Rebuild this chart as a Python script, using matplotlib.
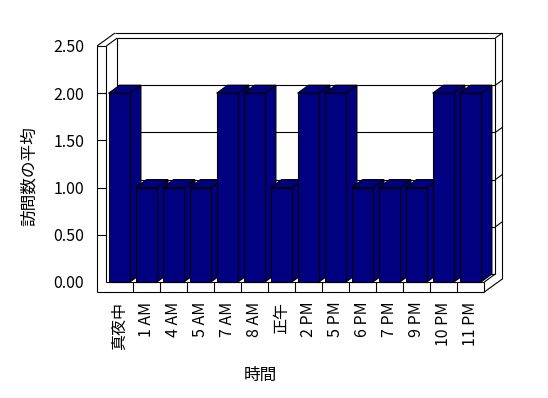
import numpy as np
import matplotlib
matplotlib.use('Agg')
import matplotlib.pyplot as plt
from matplotlib.patches import Polygon

plt.rcParams['font.family'] = ['Noto Sans CJK JP', 'DejaVu Sans']

categories = ['真夜中', '1 AM', '4 AM', '5 AM', '7 AM', '8 AM', '正午',
              '2 PM', '5 PM', '6 PM', '7 PM', '9 PM', '10 PM', '11 PM']
values = [2, 1, 1, 1, 2, 2, 1, 2, 2, 1, 1, 1, 2, 2]
yticks = [0.0, 0.5, 1.0, 1.5, 2.0, 2.5]
ytick_labels = ['0.00', '0.50', '1.00', '1.50', '2.00', '2.50']

NAVY = '#000080'
LW = 0.8
W, H = 548, 398

fig = plt.figure(figsize=(W / 100, H / 100), dpi=100)
fig.patch.set_facecolor('white')

# front plane of the box, in pixels of the image
left_px, right_px, top_px, base_px = 106.3, 484.3, 46, 282
ax = fig.add_axes([left_px / W, 1 - base_px / H,
                   (right_px - left_px) / W, (base_px - top_px) / H])
n = len(categories)
ymax = yticks[-1]
ax.set_xlim(0, n)
ax.set_ylim(0, ymax)
for s in ax.spines.values():
    s.set_visible(False)

# pixel sizes of the fake depth, turned into data units
px_x = (right_px - left_px) / n
px_y = (base_px - top_px) / ymax
DX, DY = 11 / px_x, 8 / px_y      # depth of the box and bars
TX, TY = 7 / px_x, 5 / px_y       # thickness of the back wall
SW = 9.3 / px_x                   # thickness of the left wall
FT = 10 / px_y                    # thickness of the floor


def line(xs, ys, z=3):
    ax.plot(xs, ys, color='black', lw=LW, clip_on=False, zorder=z,
            solid_capstyle='butt')


# back wall gridlines
for v in yticks[1:-1]:
    line([DX, n + DX], [v + DY, v + DY], z=2)
    line([n + DX, n + DX + TX], [v + DY, v + DY + TY], z=2)
line([DX, n + DX], [DY, DY], z=2)
line([DX, DX], [DY, ymax + DY], z=2)

# walls and floor outline
line([-SW, -SW], [-FT, ymax])
line([-SW, 0], [ymax, ymax])
line([0, 0], [0, ymax])
line([-SW, n], [-FT, -FT])
line([0, n], [0, 0])
ax.vlines(np.arange(1, n + 1), -FT, 0, color='black', lw=LW, clip_on=False, zorder=3)
ax.hlines(yticks[1:-1], -SW, 0, color='black', lw=LW, clip_on=False, zorder=3)
line([-SW, -SW + DX + TX], [ymax, ymax + DY + TY])
line([0, DX], [ymax, ymax + DY])
line([DX, n + DX], [ymax + DY, ymax + DY])
line([-SW + DX + TX, n + DX + TX], [ymax + DY + TY, ymax + DY + TY])
line([n + DX, n + DX + TX], [ymax + DY, ymax + DY + TY])
line([n + DX, n + DX], [DY, ymax + DY])
line([n + DX + TX, n + DX + TX], [-FT + DY + TY, ymax + DY + TY])
line([n, n + DX], [0, DY])
line([n, n + DX + TX], [-FT, -FT + DY + TY])

# bars: front faces from ax.bar, side and top faces as polygons
bw = 0.79
xs = np.arange(n) + 0.085
bars = ax.bar(xs, values, width=bw, align='edge', color=NAVY,
              edgecolor='black', lw=LW, clip_on=False)
for i, (b, v) in enumerate(zip(bars, values)):
    xl, xr = xs[i], xs[i] + bw
    side = Polygon([(xr, 0), (xr + DX, DY), (xr + DX, v + DY), (xr, v)],
                   closed=True, facecolor=NAVY, edgecolor='black', lw=LW,
                   clip_on=False, zorder=10 + 3 * i)
    top = Polygon([(xl, v), (xr, v), (xr + DX, v + DY), (xl + DX, v + DY)],
                  closed=True, facecolor=NAVY, edgecolor='black', lw=LW,
                  clip_on=False, zorder=11 + 3 * i)
    ax.add_patch(side)
    ax.add_patch(top)
    b.set_zorder(12 + 3 * i)

ax.set_yticks(yticks, ytick_labels)
ax.tick_params(axis='y', length=0, pad=15.8, labelsize=11.5)
ax.set_xticks(np.arange(n) + 0.5, categories, rotation=90)
ax.tick_params(axis='x', length=0, pad=14.2, labelsize=11.5)

fig.text(29 / W, 1 - 176 / H, '訪問数の平均', rotation=90, ha='center',
         va='center', fontsize=12)
fig.text(260 / W, 1 - 375 / H, '時間', ha='center', va='center', fontsize=12)

fig.savefig('out.png', dpi=100, facecolor='white')
